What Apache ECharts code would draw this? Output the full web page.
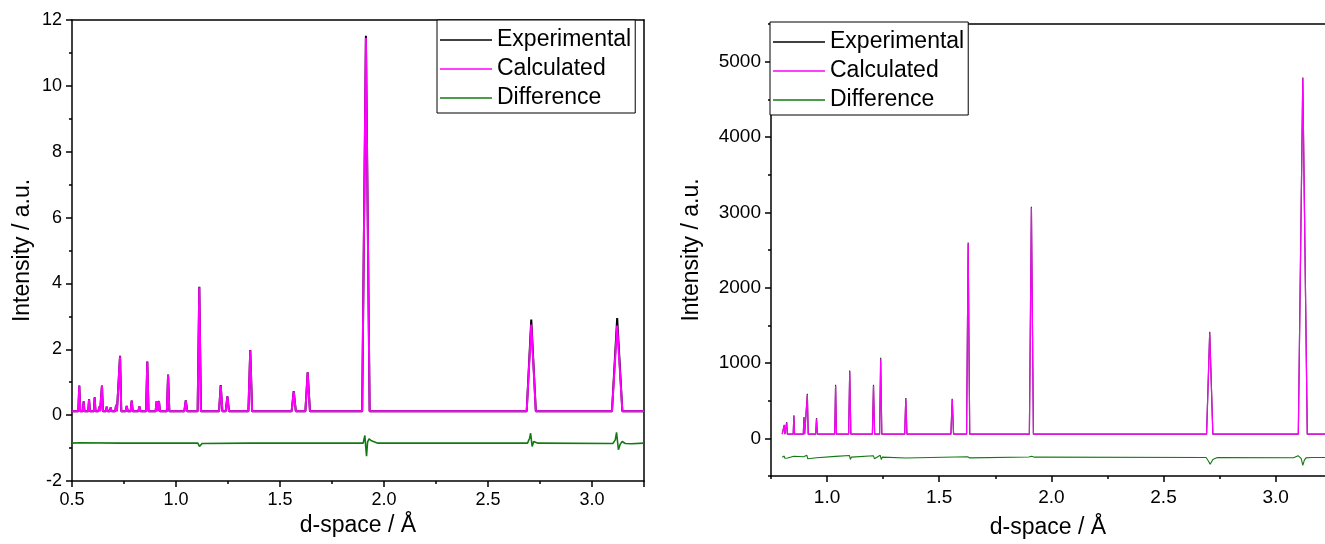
<!DOCTYPE html>
<html>
<head>
<meta charset="utf-8">
<script src="https://cdn.jsdelivr.net/npm/echarts@6/dist/echarts.min.js"></script>
<style>
  html, body { margin: 0; padding: 0; background: #fff; }
  #chart { width: 1325px; height: 544px; }
</style>
</head>
<body>
<div id="chart"></div>
<script>
// ---- Left pattern: normalised intensity vs d-spacing ----
const leftPeakD  = [0.535, 0.556, 0.582, 0.609, 0.631, 0.644, 0.667, 0.686, 0.712, 0.731, 0.763, 0.787, 0.824, 0.862, 0.907, 0.918, 0.962, 1.047, 1.112, 1.215, 1.247, 1.357, 1.566, 1.633, 1.913, 2.708, 3.121];
const leftCalcH  = [0.89, 0.41, 0.48, 0.53, 0.26, 0.89, 0.26, 0.23, 0.31, 1.79, 0.28, 0.44, 0.26, 1.62, 0.43, 0.43, 1.22, 0.44, 3.88, 0.90, 0.56, 1.97, 0.72, 1.29, 11.45, 2.75, 2.72];
const leftObsH   = [0.90, 0.42, 0.49, 0.54, 0.26, 0.90, 0.26, 0.23, 0.31, 1.80, 0.28, 0.44, 0.26, 1.63, 0.43, 0.43, 1.23, 0.45, 3.90, 0.91, 0.57, 1.98, 0.73, 1.30, 11.52, 2.90, 2.95];
const leftPeakW  = [0.005, 0.004, 0.004, 0.004, 0.004, 0.005, 0.004, 0.004, 0.004, 0.006, 0.005, 0.005, 0.005, 0.006, 0.005, 0.005, 0.006, 0.007, 0.008, 0.008, 0.008, 0.009, 0.010, 0.011, 0.018, 0.022, 0.025];
const leftBackground = 0.12;
const leftDiffD = [0.5, 0.535, 0.73, 0.731, 0.733, 0.736, 0.86, 0.862, 0.865, 0.868, 1.105, 1.108, 1.113, 1.118, 1.125, 1.355, 1.358, 1.362, 1.63, 1.634, 1.64, 1.90, 1.905, 1.908, 1.912, 1.916, 1.921, 1.928, 1.94, 1.97, 2.69, 2.70, 2.705, 2.712, 2.72, 2.74, 3.10, 3.112, 3.118, 3.127, 3.136, 3.145, 3.16, 3.19, 3.25];
const leftDiffV = [-0.85, -0.84, -0.85, -0.80, -0.87, -0.85, -0.85, -0.81, -0.87, -0.85, -0.85, -0.80, -0.95, -0.90, -0.86, -0.85, -0.90, -0.86, -0.85, -0.89, -0.85, -0.85, -0.70, -0.62, -0.95, -1.25, -0.82, -0.72, -0.78, -0.85, -0.85, -0.70, -0.55, -0.95, -0.80, -0.85, -0.86, -0.75, -0.52, -1.05, -0.88, -0.80, -0.86, -0.87, -0.85];

// ---- Right pattern: counts vs d-spacing ----
const rightPeakD = [0.809, 0.820, 0.852, 0.897, 0.912, 0.953, 1.038, 1.101, 1.207, 1.239, 1.351, 1.558, 1.629, 1.911, 2.706, 3.121];
const rightCalcH = [173, 208, 296, 274, 575, 261, 695, 880, 695, 1049, 527, 518, 2580, 3060, 1400, 4780];
const rightObsH  = [180, 215, 305, 282, 590, 268, 712, 900, 712, 1070, 535, 525, 2600, 3075, 1415, 4790];
const rightPeakW = [0.003, 0.003, 0.003, 0.003, 0.004, 0.004, 0.004, 0.005, 0.005, 0.005, 0.005, 0.006, 0.007, 0.009, 0.014, 0.020];
const rightBackground = 55;
const rightDiffD = [0.80, 0.809, 0.812, 0.82, 0.824, 0.852, 0.855, 0.895, 0.897, 0.910, 0.914, 0.918, 0.953, 1.038, 1.042, 1.10, 1.104, 1.108, 1.207, 1.211, 1.237, 1.242, 1.246, 1.351, 1.627, 1.631, 1.636, 1.64, 1.90, 1.905, 1.912, 1.918, 1.925, 2.69, 2.70, 2.708, 2.72, 2.74, 3.08, 3.10, 3.108, 3.114, 3.121, 3.128, 3.135, 3.16, 3.22];
const rightDiffV = [-250, -235, -265, -240, -262, -238, -262, -245, -262, -225, -272, -250, -258, -240, -262, -228, -280, -250, -232, -270, -225, -282, -250, -262, -245, -228, -260, -250, -248, -222, -238, -220, -250, -255, -300, -345, -280, -255, -258, -230, -205, -270, -358, -290, -260, -255, -255];

// ---- Axis ticks ----
const rightXMajor = [1.0, 1.5, 2.0, 2.5, 3.0];
const rightXMinor = [0.75, 1.25, 1.75, 2.25, 2.75];
const rightYMajor = [0, 1000, 2000, 3000, 4000, 5000];
const rightYMinor = [-500, 500, 1500, 2500, 3500, 4500, 5500];

const seriesNames = ['Experimental', 'Calculated', 'Difference'];
const colorObs = '#000000';
const colorCalc = '#ff00ff';
const colorDiff = '#127a12';
const FONT = 'Liberation Sans, Arial, sans-serif';

// Peak list -> polyline: each reflection rises from the background to its apex and back.
function buildProfile(d, h, w, bg, from, to) {
  const pts = [[from, bg]];
  for (let i = 0; i < d.length; i++) {
    pts.push([d[i] - w[i], bg], [d[i], h[i]], [d[i] + w[i], bg]);
  }
  pts.push([to, bg]);
  return pts;
}
function pairs(xs, ys) { return xs.map((x, i) => [x, ys[i]]); }

const axisLineStyle = (w) => ({ show: true, onZero: false, lineStyle: { color: '#000', width: w } });
const labelStyle = (size) => ({ color: '#000', fontSize: size, fontFamily: FONT });

function legendFor(left, top) {
  return {
    left: left, top: top, orient: 'vertical',
    data: seriesNames, selectedMode: false,
    icon: 'rect', itemWidth: 52, itemHeight: 1.5, itemGap: 5,
    padding: [8, 4, 3, 3],
    backgroundColor: '#fff', borderColor: '#000', borderWidth: 1,
    textStyle: { color: '#000', fontSize: 23, fontFamily: FONT, lineHeight: 24 }
  };
}

const chart = echarts.init(document.getElementById('chart'), null, { renderer: 'canvas' });
chart.setOption({
  animation: false,
  backgroundColor: '#fff',
  grid: [
    { left: 72, top: 20, width: 572, height: 461 },
    { left: 771, top: 24, width: 555, height: 453 }
  ],
  legend: [legendFor(437, 20), legendFor(770, 22)],
  xAxis: [
    { // left bottom
      gridIndex: 0, type: 'value', position: 'bottom', min: 0.5, max: 3.25, interval: 0.5,
      axisLine: axisLineStyle(1.5),
      axisTick: { show: true, inside: false, length: 6, lineStyle: { color: '#000', width: 1.5 } },
      minorTick: { show: true, splitNumber: 2, length: 3, lineStyle: { color: '#000', width: 1.5 } },
      splitLine: { show: false },
      axisLabel: Object.assign(labelStyle(18), { margin: 10, showMaxLabel: false, formatter: v => v.toFixed(1) }),
      name: 'd-space / Å', nameLocation: 'middle', nameGap: 33,
      nameTextStyle: labelStyle(23)
    },
    { // left top frame
      gridIndex: 0, type: 'value', position: 'top', min: 0.5, max: 3.25,
      axisLine: axisLineStyle(1.5), axisTick: { show: false }, axisLabel: { show: false }, splitLine: { show: false }
    },
    { // right bottom
      gridIndex: 1, type: 'value', position: 'bottom', min: 0.75, max: 3.22,
      axisLine: axisLineStyle(1.5),
      axisTick: { show: true, length: 6, customValues: rightXMajor, lineStyle: { color: '#000', width: 1.5 } },
      splitLine: { show: false },
      axisLabel: Object.assign(labelStyle(19), { margin: 12, customValues: rightXMajor, formatter: v => v.toFixed(1) }),
      name: 'd-space / Å', nameLocation: 'middle', nameGap: 40,
      nameTextStyle: labelStyle(23)
    },
    { // right bottom minor ticks
      gridIndex: 1, type: 'value', position: 'bottom', min: 0.75, max: 3.22,
      axisLine: { show: false, onZero: false },
      axisTick: { show: true, length: 3, customValues: rightXMinor, lineStyle: { color: '#000', width: 1.5 } },
      axisLabel: { show: false }, splitLine: { show: false }
    },
    { // right top frame
      gridIndex: 1, type: 'value', position: 'top', min: 0.75, max: 3.22,
      axisLine: axisLineStyle(1.5), axisTick: { show: false }, axisLabel: { show: false }, splitLine: { show: false }
    }
  ],
  yAxis: [
    { // left
      gridIndex: 0, type: 'value', position: 'left', min: -2, max: 12, interval: 2,
      axisLine: axisLineStyle(1.5),
      axisTick: { show: true, length: 6, lineStyle: { color: '#000', width: 1.5 } },
      minorTick: { show: true, splitNumber: 2, length: 3, lineStyle: { color: '#000', width: 1.5 } },
      splitLine: { show: false },
      axisLabel: Object.assign(labelStyle(18), { margin: 10 }),
      name: 'Intensity / a.u.', nameLocation: 'middle', nameGap: 38,
      nameTextStyle: labelStyle(23)
    },
    { // left right-hand frame
      gridIndex: 0, type: 'value', position: 'right', min: -2, max: 12,
      axisLine: axisLineStyle(1.5), axisTick: { show: false }, axisLabel: { show: false }, splitLine: { show: false }
    },
    { // right
      gridIndex: 1, type: 'value', position: 'left', min: -500, max: 5500,
      axisLine: axisLineStyle(1.5),
      axisTick: { show: true, length: 6, customValues: rightYMajor, lineStyle: { color: '#000', width: 1.5 } },
      splitLine: { show: false },
      axisLabel: Object.assign(labelStyle(19), { margin: 10, customValues: rightYMajor, formatter: v => String(v) }),
      name: 'Intensity / a.u.', nameLocation: 'middle', nameGap: 68,
      nameTextStyle: labelStyle(23)
    },
    { // right minor ticks
      gridIndex: 1, type: 'value', position: 'left', min: -500, max: 5500,
      axisLine: { show: false, onZero: false },
      axisTick: { show: true, length: 3, customValues: rightYMinor, lineStyle: { color: '#000', width: 1.5 } },
      axisLabel: { show: false }, splitLine: { show: false }
    }
  ],
  series: [
    { name: 'Experimental', type: 'line', xAxisIndex: 0, yAxisIndex: 0, symbol: 'none', color: colorObs,
      lineStyle: { width: 2, color: colorObs }, z: 2,
      data: buildProfile(leftPeakD, leftObsH, leftPeakW, leftBackground, 0.5, 3.25) },
    { name: 'Calculated', type: 'line', xAxisIndex: 0, yAxisIndex: 0, symbol: 'none', color: colorCalc,
      lineStyle: { width: 2, color: colorCalc }, z: 3,
      data: buildProfile(leftPeakD, leftCalcH, leftPeakW, leftBackground, 0.5, 3.25) },
    { name: 'Difference', type: 'line', xAxisIndex: 0, yAxisIndex: 0, symbol: 'none', color: colorDiff,
      lineStyle: { width: 1.6, color: colorDiff }, z: 3,
      data: pairs(leftDiffD, leftDiffV) },
    { name: 'Experimental', type: 'line', xAxisIndex: 2, yAxisIndex: 2, symbol: 'none', color: colorObs,
      lineStyle: { width: 1.2, color: '#333' }, z: 2,
      data: buildProfile(rightPeakD, rightObsH, rightPeakW, rightBackground, 0.8, 3.22) },
    { name: 'Calculated', type: 'line', xAxisIndex: 2, yAxisIndex: 2, symbol: 'none', color: colorCalc,
      lineStyle: { width: 1.2, color: colorCalc }, z: 3,
      data: buildProfile(rightPeakD, rightCalcH, rightPeakW, rightBackground, 0.8, 3.22) },
    { name: 'Difference', type: 'line', xAxisIndex: 2, yAxisIndex: 2, symbol: 'none', color: colorDiff,
      lineStyle: { width: 1.1, color: colorDiff }, z: 3,
      data: pairs(rightDiffD, rightDiffV) }
  ]
});
</script>
</body>
</html>
